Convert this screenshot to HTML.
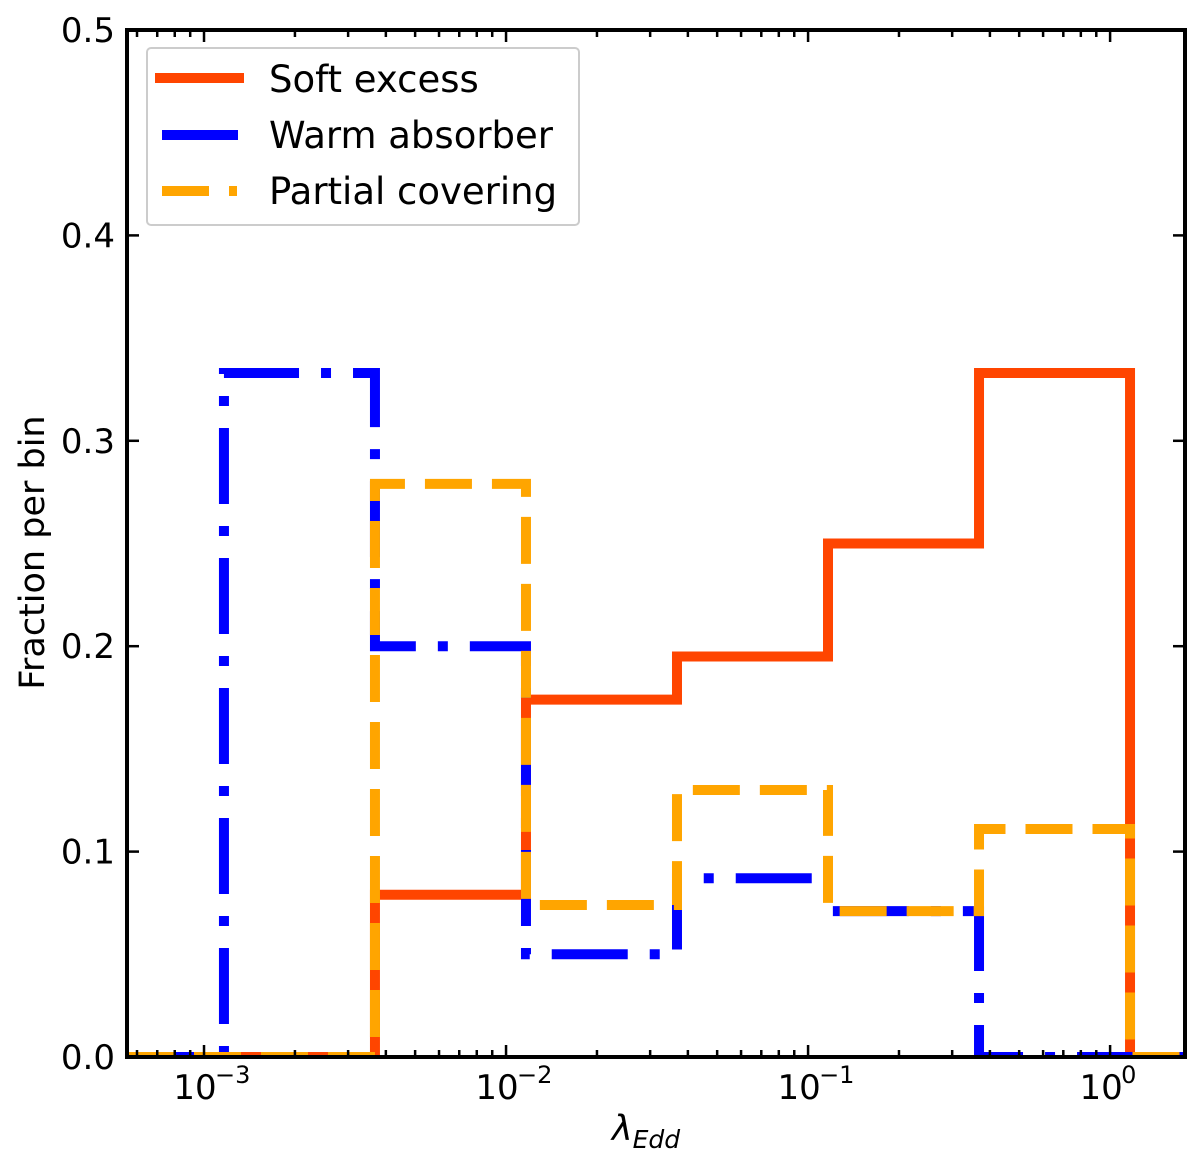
<!DOCTYPE html>
<html><head><meta charset="utf-8"><style>
body{margin:0;background:#fff;}
svg text{font-family:"DejaVu Sans","Liberation Sans",sans-serif;fill:#000;}
</style></head><body>
<svg width="1200" height="1164" xmlns="http://www.w3.org/2000/svg" id="chart">
<g id="marks"></g>
<g id="axes"></g>
<g>
<rect x="147" y="48" width="432" height="177" rx="4" fill="#fff" fill-opacity="0.85" stroke="#ccc" stroke-width="2"/>
<line x1="155" y1="78" x2="244" y2="78" stroke="#ff4500" stroke-width="10"/>
<text x="269" y="92" font-size="37">Soft excess</text>
<line x1="162" y1="135" x2="238" y2="135" stroke="#0000ff" stroke-width="10"/>
<text x="269" y="148" font-size="37">Warm absorber</text>
<line x1="162" y1="191" x2="238" y2="191" stroke="#ffa500" stroke-width="10" stroke-dasharray="47 20 8 20"/>
<text x="269" y="204" font-size="37">Partial covering</text>
</g>
</svg>
<script>
const binEdgesLog=[-2.934,-2.434,-1.934,-1.434,-0.934,-0.434,0.066];
const softExcess=[0,0.079,0.174,0.195,0.25,0.333];
const warmAbsorber=[0.333,0.2,0.05,0.087,0.071,0];
const partialCovering=[0,0.279,0.074,0.13,0.071,0.111];
const yTicks=[0,0.1,0.2,0.3,0.4,0.5];
const yTickLabels=["0.0","0.1","0.2","0.3","0.4","0.5"];
const xDecades=[-3,-2,-1,0];
const xTickExps=["−3","−2","−1","0"];

const L=127,R=1185,T=30,B=1057;
const xMinLog=-3.255,xMaxLog=0.248;
const X=l=>L+(l-xMinLog)/(xMaxLog-xMinLog)*(R-L);
const Y=v=>B-(v/0.5)*(B-T);
const NS="http://www.w3.org/2000/svg";
const marks=document.getElementById('marks'),axes=document.getElementById('axes');
function mk(tag,attrs,parent){const e=document.createElementNS(NS,tag);for(const k in attrs)e.setAttribute(k,attrs[k]);parent.appendChild(e);return e;}

function stepPath(vals){
  let d=`M${L},${Y(0)} L${X(binEdgesLog[0])},${Y(0)}`;
  vals.forEach((v,i)=>{d+=` L${X(binEdgesLog[i])},${Y(v)} L${X(binEdgesLog[i+1])},${Y(v)}`;});
  d+=` L${X(binEdgesLog[binEdgesLog.length-1])},${Y(0)} L${R},${Y(0)}`;
  return d;
}
const clip=mk('clipPath',{id:'pc'},marks);mk('rect',{x:L,y:T,width:R-L,height:B-T},clip);
let p=mk('path',{d:stepPath(softExcess),fill:'none',stroke:'#ff4500','stroke-width':10,'clip-path':'url(#pc)'},marks);


p=mk('path',{d:stepPath(warmAbsorber),fill:'none',stroke:'#0000ff','stroke-width':10,'stroke-dasharray':'76 22 10 22','clip-path':'url(#pc)'},marks);


p=mk('path',{d:stepPath(partialCovering),fill:'none',stroke:'#ffa500','stroke-width':10,'stroke-dasharray':'47 20','clip-path':'url(#pc)'},marks);



let fr=mk('rect',{x:L,y:T,width:R-L,height:B-T,fill:'none',stroke:'#000','stroke-width':4},axes);



yTicks.forEach((v,i)=>{
  const y=Y(v);
  mk('line',{x1:L,y1:y,x2:L+12,y2:y,stroke:'#000','stroke-width':2.5},axes);
  mk('line',{x1:R,y1:y,x2:R-12,y2:y,stroke:'#000','stroke-width':2.5},axes);
  const t=mk('text',{x:L-12,y:y+12,'font-size':34,'text-anchor':'end'},axes);
  t.textContent=yTickLabels[i];
  
  
});
for(let d=-4;d<=0;d++){
  for(let m=1;m<10;m++){
    const l=d+Math.log10(m);
    if(l<xMinLog||l>xMaxLog)continue;
    const x=X(l),len=m===1?12:7;
    mk('line',{x1:x,y1:B,x2:x,y2:B-len,stroke:'#000','stroke-width':2.5},axes);
    mk('line',{x1:x,y1:T,x2:x,y2:T+len,stroke:'#000','stroke-width':2.5},axes);
  }
}
xDecades.forEach((d,i)=>{
  const x=X(d);
  const t=mk('text',{x:x-9,y:B+42,'font-size':34,'text-anchor':'middle'},axes);
  t.textContent='10';
  
  
  const s=mk('text',{x:x+11,y:B+26,'font-size':24,'text-anchor':'start'},axes);
  s.textContent=xTickExps[i];
  
  
});
const yl=mk('text',{x:0,y:0,'font-size':35,'text-anchor':'middle',transform:`translate(44,${(T+B)/2+9}) rotate(-90)`},axes);
yl.textContent='Fraction per bin';


const xl=mk('text',{x:(L+R)/2-10,y:1140,'font-size':35,'text-anchor':'middle','font-style':'italic'},axes);
xl.innerHTML='λ<tspan font-size="25" dy="8">Edd</tspan>';


</script>
</body></html>
